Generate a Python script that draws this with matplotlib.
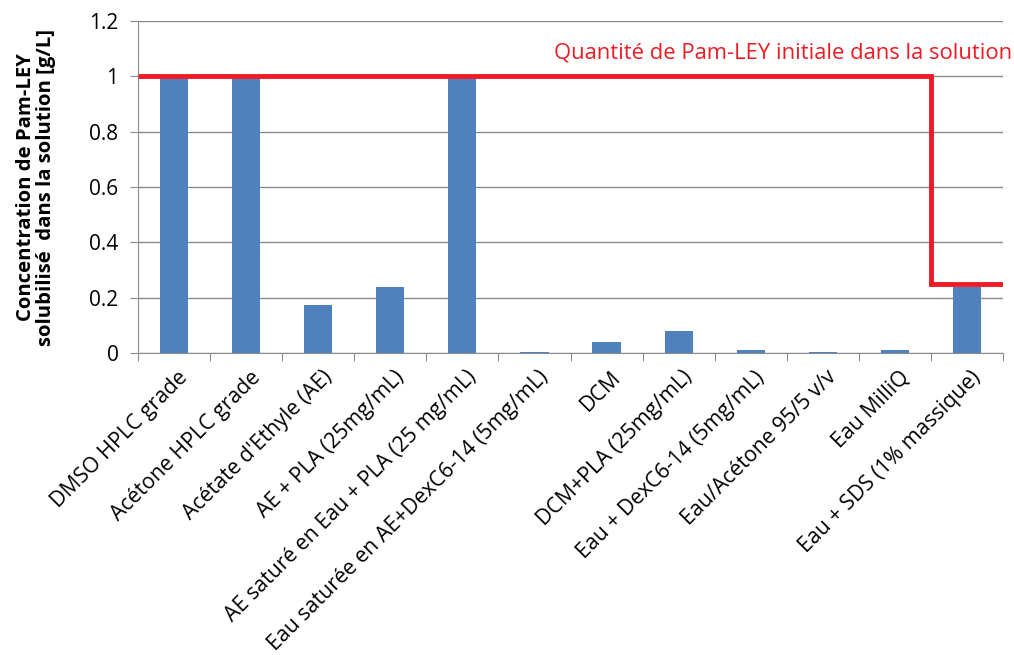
import matplotlib
matplotlib.use("Agg")
import matplotlib.pyplot as plt
import numpy as np

categories = [
    "DMSO HPLC grade",
    "Acétone HPLC grade",
    "Acétate d'Ethyle (AE)",
    "AE + PLA (25mg/mL)",
    "AE saturé en Eau + PLA (25 mg/mL)",
    "Eau saturée en AE+DexC6-14 (5mg/mL)",
    "DCM",
    "DCM+PLA (25mg/mL)",
    "Eau + DexC6-14 (5mg/mL)",
    "Eau/Acétone 95/5 v/v",
    "Eau MilliQ",
    "Eau + SDS (1% massique)",
]
solubilized = [1.0, 1.0, 0.175, 0.24, 1.0, 0.005, 0.04, 0.08, 0.01, 0.005, 0.01, 0.24]
initial = [1.0, 1.0, 1.0, 1.0, 1.0, 1.0, 1.0, 1.0, 1.0, 1.0, 1.0, 0.25]
yticks = [0, 0.2, 0.4, 0.6, 0.8, 1.0, 1.2]
ytick_labels = ["0", "0.2", "0.4", "0.6", "0.8", "1", "1.2"]

plt.rcParams['font.family'] = ['Open Sans', 'DejaVu Sans']

fig = plt.figure(figsize=(10.14, 6.55), dpi=100)
ax = fig.add_axes([138 / 1014, 1 - 353 / 655, (1003 - 138) / 1014, (353 - 21) / 655])

x = np.arange(len(categories))
ax.bar(x, solubilized, width=0.39, color="#4F81BD", zorder=2)
edges = np.arange(len(categories) + 1) - 0.5
ax.stairs(initial, edges, baseline=None, color="#ED1C24", linewidth=3.5, zorder=3)

ax.set_xlim(-0.5, len(categories) - 0.5)
ax.set_ylim(0, 1.2)
ax.set_yticks(yticks)
ax.set_yticklabels(ytick_labels, fontsize=15)
ax.yaxis.grid(True, color="#8c8c8c", linewidth=1.0, zorder=0)
ax.set_axisbelow(True)

ax.set_xticks(edges, minor=False)
ax.set_xticklabels([])
ax.tick_params(axis='x', length=6, color="#8c8c8c", direction='out')
ax.tick_params(axis='y', length=6, color="#8c8c8c", direction='out', pad=8)

for i, lab in enumerate(categories):
    ax.text(i + 0.05, -0.05, lab, rotation=45, ha='right', va='top',
            rotation_mode='anchor', fontsize=15.3, transform=ax.transData)

for s in ['top', 'right']:
    ax.spines[s].set_visible(False)
for s in ['left', 'bottom']:
    ax.spines[s].set_color("#8c8c8c")

ax.set_ylabel("Concentration de Pam-LEY\nsolubilisé  dans la solution [g/L]",
              fontsize=14.6, fontweight='bold', labelpad=24, linespacing=1.0)

ax.text(11.62, 1.085, "Quantité de Pam-LEY initiale dans la solution", color="#ED1C24",
        fontsize=15.8, ha='right', va='center', transform=ax.transData,
        clip_on=False)

fig.savefig("out.png", dpi=100)
